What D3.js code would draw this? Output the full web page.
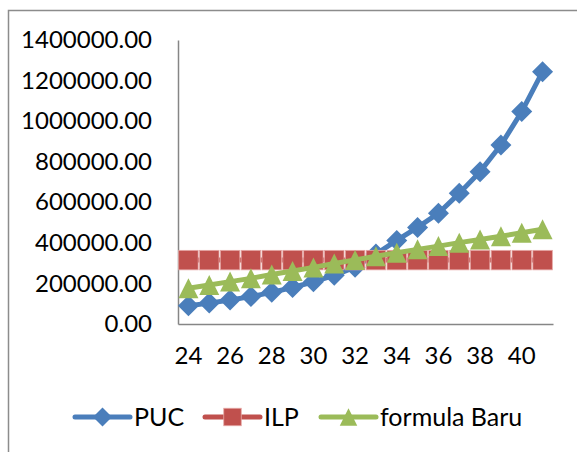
<!DOCTYPE html>
<html>
<head>
<meta charset="utf-8">
<script src="https://cdn.jsdelivr.net/npm/d3@7"></script>
<style>
  body { margin: 0; background: #fff; }
  text { font-family: Lato, "Liberation Sans", sans-serif; fill: #000; }
</style>
</head>
<body>
<div class="chart"></div>
<script>
// data
const ages = [24, 25, 26, 27, 28, 29, 30, 31, 32, 33, 34, 35, 36, 37, 38, 39, 40, 41];
const puc = [90000, 103000, 118000, 135000, 156000, 180000, 208000, 240000, 280000,
             345000, 412000, 476000, 546000, 644000, 751000, 882000, 1047000, 1244000];
const ilp = [315000, 315000, 315000, 315000, 315000, 315000, 315000, 315000, 315000,
             315000, 315000, 315000, 315000, 315000, 315000, 315000, 315000, 315000];
const formulaBaru = [176000, 192000, 209000, 225000, 244000, 261000, 279000, 298000, 316000,
                     334000, 351000, 368000, 384000, 401000, 417000, 433000, 450000, 467000];
const yTicks = [0, 200000, 400000, 600000, 800000, 1000000, 1200000, 1400000];
const xTicks = [24, 26, 28, 30, 32, 34, 36, 38, 40];

const width = 577, height = 452;
const plot = { left: 178, right: 553, top: 40, bottom: 324 };

const svg = d3.select('.chart')
    .append('svg')
    .attr('width', width)
    .attr('height', height);

// outer frame (only top and left show in the picture)
svg.append('rect')
    .attr('x', 8.5).attr('y', 10.5)
    .attr('width', 700).attr('height', 700)
    .attr('fill', 'none')
    .attr('stroke', '#8c8c8c')
    .attr('stroke-width', 1.5);

const x = d3.scaleBand().domain(ages).range([plot.left, plot.right]);
const y = d3.scaleLinear().domain([0, 1400000]).range([plot.bottom, plot.top]);
const cx = d => x(d) + x.bandwidth() / 2;

// axes
const yAxis = svg.append('g')
    .attr('transform', `translate(${plot.left},0)`)
    .call(d3.axisLeft(y).tickValues(yTicks).tickSize(0).tickPadding(26)
        .tickFormat(d => d3.format('.2f')(d)));
const xAxis = svg.append('g')
    .attr('transform', `translate(0,${plot.bottom})`)
    .call(d3.axisBottom(x).tickValues(xTicks).tickSize(0).tickPadding(23));

[yAxis, xAxis].forEach(g => {
    g.select('.domain').attr('stroke', '#868686').attr('stroke-width', 1.5);
    g.selectAll('text').style('font-size', '24px').attr('fill', '#000');
});

// marker shapes
function marker(sel, type, s, color) {
    if (type === 'diamond') {
        const r = s / 2;
        sel.append('path').attr('d', `M0,${-r}L${r},0L0,${r}L${-r},0Z`).attr('fill', color);
    } else if (type === 'square') {
        sel.append('rect').attr('x', -s / 2).attr('y', -s / 2)
            .attr('width', s).attr('height', s).attr('fill', color)
            .attr('stroke', '#e6a8a6').attr('stroke-width', 0.8);
    } else {
        const h = s / 2;
        sel.append('path').attr('d', `M0,${-h}L${h},${h}L${-h},${h}Z`).attr('fill', color);
    }
}

const series = [
    { name: 'PUC', values: puc, color: '#4a7ebb', type: 'diamond', size: 21 },
    { name: 'ILP', values: ilp, color: '#c0504d', type: 'square', size: 19.5 },
    { name: 'formula Baru', values: formulaBaru, color: '#9bbb59', type: 'triangle', size: 20 }
];

const line = d3.line().x(d => cx(d.age)).y(d => y(d.v));

series.forEach(s => {
    const pts = ages.map((a, i) => ({ age: a, v: s.values[i] }));
    const g = svg.append('g');
    g.append('path')
        .datum(pts)
        .attr('d', line)
        .attr('fill', 'none')
        .attr('stroke', s.color)
        .attr('stroke-width', 5)
        .attr('stroke-linejoin', 'round');
    g.selectAll('g.m')
        .data(pts)
        .join('g')
        .attr('class', 'm')
        .attr('transform', d => `translate(${cx(d.age)},${y(d.v)})`)
        .each(function () { marker(d3.select(this), s.type, s.size, s.color); });
});

// legend
const legendX = [75, 205, 321];
const legend = svg.append('g').attr('transform', 'translate(0,417)');
series.forEach((s, i) => {
    const g = legend.append('g').attr('transform', `translate(${legendX[i]},0)`);
    g.append('line')
        .attr('x1', 0).attr('x2', 55)
        .attr('stroke', s.color).attr('stroke-width', 5)
        .attr('stroke-linecap', 'round');
    marker(g.append('g').attr('transform', 'translate(27.5,0)'), s.type, s.type === 'diamond' ? 19 : 17.5, s.color);
    g.append('text')
        .attr('x', 59)
        .attr('dy', '0.35em')
        .style('font-size', '25px')
        .text(s.name);
});
</script>
</body>
</html>
